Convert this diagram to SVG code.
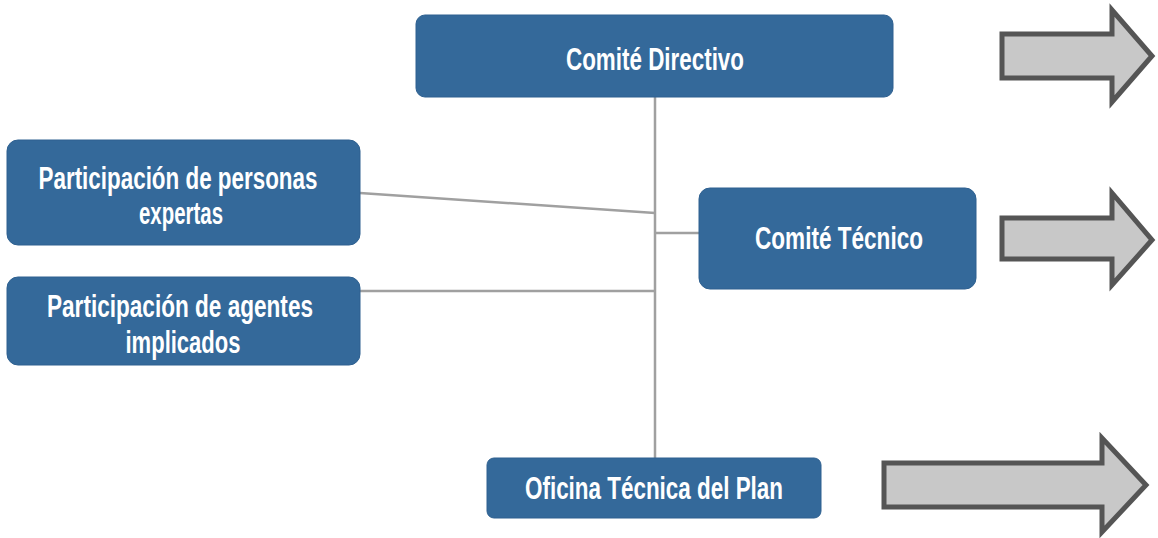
<svg xmlns="http://www.w3.org/2000/svg" width="1158" height="538" viewBox="0 0 1158 538">
<style>
.box{fill:#34699a;stroke:#2e6090;stroke-width:1}
.lbl{font-family:"Liberation Sans",Arial,sans-serif;font-weight:bold;font-size:31px;fill:#ffffff;text-anchor:middle}
.conn{stroke:#a0a0a0;stroke-width:2.5;fill:none}
.arrow{fill:#c8c8c8;stroke:#555555;stroke-width:5;stroke-linejoin:miter}
</style>
<rect width="1158" height="538" fill="#ffffff"/>
<g id="connectors">
<line class="conn" x1="655" y1="97" x2="655" y2="458"/>
<line class="conn" x1="360" y1="193" x2="655" y2="213"/>
<line class="conn" x1="655" y1="233" x2="699" y2="233"/>
<line class="conn" x1="360" y1="291" x2="655" y2="291"/>
</g>
<g id="comite-directivo">
<rect class="box" x="416" y="15" width="477" height="82" rx="9"/>
<text class="lbl" x="655" y="70" textLength="178" lengthAdjust="spacingAndGlyphs">Comité Directivo</text>
</g>
<g id="personas-expertas">
<rect class="box" x="7" y="140" width="353" height="105" rx="11"/>
<text class="lbl" x="178" y="189" textLength="279" lengthAdjust="spacingAndGlyphs">Participación de personas</text>
<text class="lbl" x="181" y="224" textLength="84" lengthAdjust="spacingAndGlyphs">expertas</text>
</g>
<g id="agentes-implicados">
<rect class="box" x="7" y="277" width="353" height="88" rx="11"/>
<text class="lbl" x="180" y="317" textLength="266" lengthAdjust="spacingAndGlyphs">Participación de agentes</text>
<text class="lbl" x="183" y="353" textLength="115" lengthAdjust="spacingAndGlyphs">implicados</text>
</g>
<g id="comite-tecnico">
<rect class="box" x="699" y="188" width="277" height="101" rx="11"/>
<text class="lbl" x="839" y="249" textLength="168" lengthAdjust="spacingAndGlyphs">Comité Técnico</text>
</g>
<g id="oficina-tecnica">
<rect class="box" x="487" y="458" width="334" height="60" rx="7"/>
<text class="lbl" x="654" y="499" textLength="258" lengthAdjust="spacingAndGlyphs">Oficina Técnica del Plan</text>
</g>
<g id="arrow-1">
<path class="arrow" d="M1002,34 H1112 V10 L1152,56 L1112,102 V78 H1002 Z"/>
</g>
<g id="arrow-2">
<path class="arrow" d="M1002,218 H1112 V193 L1152,240 L1112,285 V259 H1002 Z"/>
</g>
<g id="arrow-3">
<path class="arrow" d="M884,463 H1102 V438 L1146,485 L1102,532 V507 H884 Z"/>
</g>
</svg>
